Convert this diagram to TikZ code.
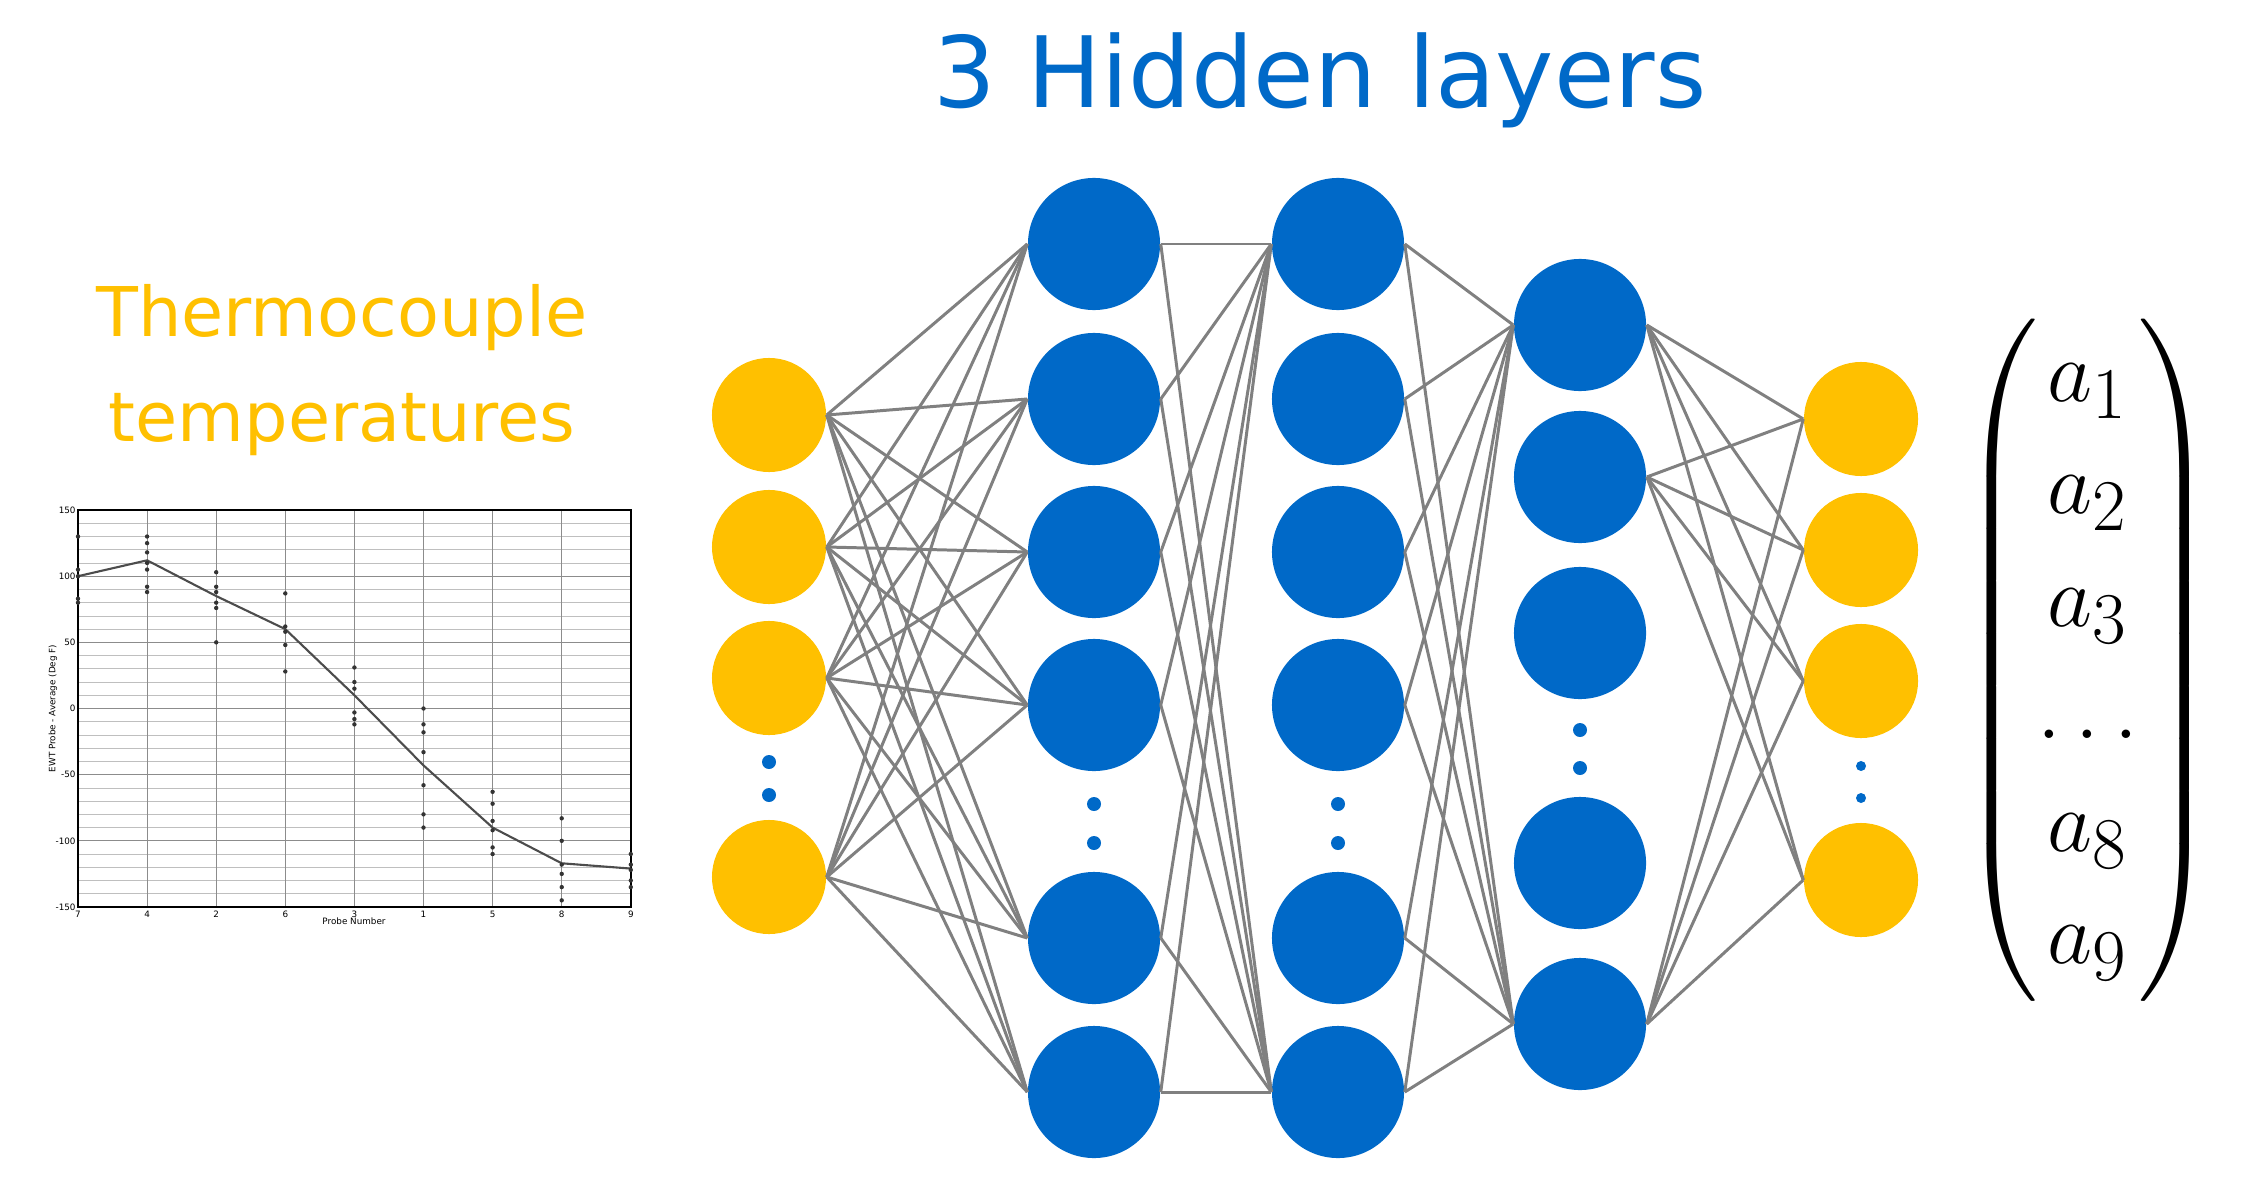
\documentclass[tikz,border=0pt]{standalone}
\usepackage{amsmath}
\usepackage{fontspec}
\setmainfont{DejaVu Sans}
\usepackage{tikz}
\usetikzlibrary{positioning,calc}
\definecolor{nnblue}{RGB}{0,105,200}
\definecolor{nnyellow}{RGB}{255,192,0}
\definecolor{nngray}{RGB}{128,128,128}

\begin{document}
\begin{tikzpicture}[x=0.01cm, y=-0.01cm,
    inp/.style={circle, fill=nnyellow, minimum size=1.14cm, inner sep=0pt},
    hid/.style={circle, fill=nnblue, minimum size=1.32cm, inner sep=0pt},
    vdot/.style={circle, fill=nnblue, minimum size=0.14cm, inner sep=0pt},
    edge/.style={line width=0.85pt, nngray},
    grid/.style={line width=0.2pt, black!45},
    plotlabel/.style={font=\fontsize{2.5pt}{3pt}\selectfont, inner sep=0.5pt} ]
    \useasboundingbox (0,0) rectangle (2249,1182);

    % Titles
    \node[text=nnblue, font=\fontsize{28}{32}\selectfont] (title) at (1320,80) {3 Hidden layers};
    \node[text=nnyellow, font=\fontsize{19.5}{30}\selectfont, align=center] (tc) at (342,370)
    {Thermocouple\\temperatures};

    % Layers
    \foreach \i/\y in {1/415,2/547,3/678,4/877} \node[inp] (in\i) at (769,\y) {};
    \foreach \i/\y in {1/244,2/399,3/552,4/705,5/938,6/1092} \node[hid] (ha\i) at (1094,\y) {};
    \foreach \i/\y in {1/244,2/399,3/552,4/705,5/938,6/1092} \node[hid] (hb\i) at (1338,\y) {};
    \foreach \i/\y in {1/325,2/477,3/633,4/863,5/1024} \node[hid] (hc\i) at (1580,\y) {};
    \foreach \i/\y in {1/419,2/550,3/681,4/880} \node[inp] (out\i) at (1861,\y) {};

    % Vertical dots
    \node[vdot] (da1) at (769,762) {}; \node[vdot] (da2) at (769,795) {};
    \node[vdot] (db1) at (1094,804) {}; \node[vdot] (db2) at (1094,843) {};
    \node[vdot] (dc1) at (1338,804) {}; \node[vdot] (dc2) at (1338,843) {};
    \node[vdot] (dd1) at (1580,730) {}; \node[vdot] (dd2) at (1580,768) {};
    \node[vdot, minimum size=0.1cm] (de1) at (1861,766) {};
    \node[vdot, minimum size=0.1cm] (de2) at (1861,798) {};

    % Connections
    \foreach \i in {1,...,4} \foreach \j in {1,...,6}
      \draw[edge] (in\i.east) -- (ha\j.west);
    \foreach \i in {1,...,6} \foreach \j in {1,6}
      \draw[edge] (ha\i.east) -- (hb\j.west);
    \foreach \i in {1,...,6} \foreach \j in {1,5}
      \draw[edge] (hb\i.east) -- (hc\j.west);
    \foreach \i in {1,2,5} \foreach \j in {1,...,4}
      \draw[edge] (hc\i.east) -- (out\j.west);

    % Output vector
    \node[font=\fontsize{29}{32}\selectfont, inner sep=0pt] (vec) at (2088,660)
    {$\left(\begin{matrix} a_1\\ a_2\\ a_3\\ \dots\\ a_8\\ a_9 \end{matrix}\right)$};

    % Measured temperature plot
    \begin{scope}[shift={(78,708.5)}]
      \foreach \v in {-150,-140,...,150} \draw[grid, black!25] (0,-\v*1.323) -- (553,-\v*1.323);
      \foreach \v in {-150,-100,...,150} {
        \draw[grid] (0,-\v*1.323) -- (553,-\v*1.323);
        \node[plotlabel, anchor=east] at (0,-\v*1.323) {\v};
      }
      \foreach \k/\p in {0/7,1/4,2/2,3/6,4/3,5/1,6/5,7/8,8/9} {
        \draw[grid] (\k*69.1,-198.5) -- (\k*69.1,198.5);
        \node[plotlabel, anchor=north] at (\k*69.1,200) {\p};
      }
      \draw[line width=0.3pt] (0,-198.5) rectangle (553,198.5);
      \node[plotlabel] at (276,213) {Probe Number};
      \node[plotlabel, rotate=90] at (-25,0) {EWT Probe - Average (Deg F)};
      \draw[line width=0.6pt, black!70] (0,-100*1.323) -- (69.1,-112*1.323) -- (138.2,-85*1.323)
        -- (207.3,-60*1.323) -- (276.4,-10*1.323) -- (345.5,43*1.323) -- (414.6,90*1.323)
        -- (483.7,117*1.323) -- (552.8,121*1.323);
      \foreach \k/\v in {0/130,0/105,0/100,0/83,0/80,1/130,1/125,1/118,1/110,1/105,1/92,1/88,
        2/103,2/92,2/88,2/80,2/76,2/50,3/87,3/62,3/58,3/48,3/28,4/31,4/20,4/15,4/-3,4/-8,4/-12,
        5/0,5/-12,5/-18,5/-33,5/-58,5/-80,5/-90,6/-63,6/-72,6/-85,6/-92,6/-105,6/-110,
        7/-83,7/-100,7/-118,7/-125,7/-135,7/-145,8/-110,8/-118,8/-122,8/-130,8/-135}
        \fill[black!80] (\k*69.1,-\v*1.323) circle (2.2);
    \end{scope}

\end{tikzpicture}
\end{document}
